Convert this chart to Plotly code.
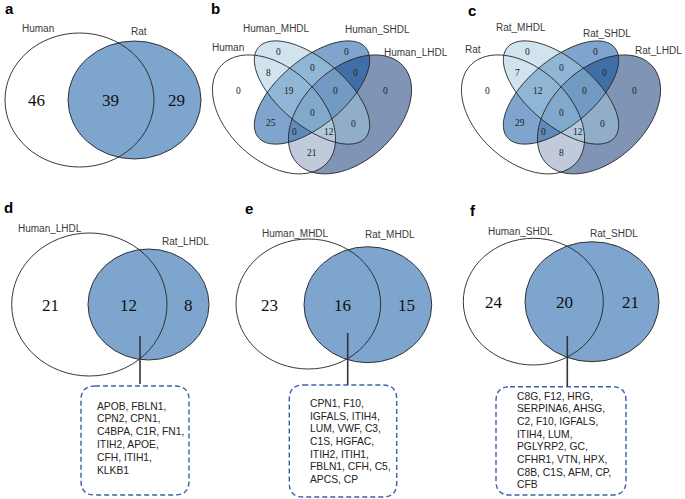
import math
import plotly.graph_objects as go

# ---------------- data ----------------
a_sets = ["Human", "Rat"]
a_counts = [46, 39, 29]

quad_regions = ["1", "2", "3", "4", "12", "23", "34", "123", "234", "13", "1234", "24", "134", "124", "14"]
b_sets = ["Human", "Human_MHDL", "Human_SHDL", "Human_LHDL"]
b_counts = [0, 0, 0, 0, 8, 0, 0, 19, 0, 25, 0, 0, 0, 12, 21]
c_sets = ["Rat", "Rat_MHDL", "Rat_SHDL", "Rat_LHDL"]
c_counts = [0, 0, 0, 0, 7, 0, 0, 12, 0, 29, 0, 0, 0, 12, 8]

d_sets = ["Human_LHDL", "Rat_LHDL"]
d_counts = [21, 12, 8]
d_genes = ["APOB, FBLN1,", "CPN2, CPN1,", "C4BPA, C1R, FN1,", "ITIH2, APOE,", "CFH, ITIH1,", "KLKB1"]

e_sets = ["Human_MHDL", "Rat_MHDL"]
e_counts = [23, 16, 15]
e_genes = ["CPN1, F10,", "IGFALS, ITIH4,", "LUM, VWF, C3,", "C1S, HGFAC,", "ITIH2, ITIH1,",
           "FBLN1, CFH, C5,", "APCS, CP"]

f_sets = ["Human_SHDL", "Rat_SHDL"]
f_counts = [24, 20, 21]
f_genes = ["C8G, F12, HRG,", "SERPINA6, AHSG,", "C2, F10, IGFALS,", "ITIH4, LUM,", "PGLYRP2, GC,",
           "CFHR1, VTN, HPX,", "C8B, C1S, AFM, CP,", "CFB"]

panel_letters = ["a", "b", "c", "d", "e", "f"]

# ---------------- styling ----------------
W, H = 685, 499
BLUE = "#7EA5CD"
LABEL_FONT = dict(family="Liberation Sans, Arial", size=10, color="#3a3a3a")
NUM_SERIF = "Liberation Serif, Times New Roman"
BOX_COLOR = "#3F5FA8"

shapes = []
annotations = []


def text(x, y, s, font, xanchor="center", yanchor="middle"):
    annotations.append(dict(x=x, y=y, xref="x", yref="y", text=s, showarrow=False,
                            font=font, xanchor=xanchor, yanchor=yanchor))


def ellipse_path(cx, cy, a, b, deg, n=120):
    t = math.radians(deg)
    pts = []
    for i in range(n):
        th = 2 * math.pi * i / n
        x = cx + a * math.cos(th) * math.cos(t) - b * math.sin(th) * math.sin(t)
        y = cy + a * math.cos(th) * math.sin(t) + b * math.sin(th) * math.cos(t)
        pts.append(f"{x:.2f},{y:.2f}")
    return "M " + " L ".join(pts) + " Z"


def rounded_rect(x0, y0, x1, y1, r):
    return (f"M {x0 + r},{y0} L {x1 - r},{y0} Q {x1},{y0} {x1},{y0 + r} "
            f"L {x1},{y1 - r} Q {x1},{y1} {x1 - r},{y1} L {x0 + r},{y1} "
            f"Q {x0},{y1} {x0},{y1 - r} L {x0},{y0 + r} Q {x0},{y0} {x0 + r},{y0} Z")


def pair_panel(sets, counts, left, right, lab_pos, num_pos, num_size, genes=None, conn=None, box=None):
    shapes.append(dict(type="circle", xref="x", yref="y", x0=right[0], x1=right[1], y0=right[2], y1=right[3],
                       fillcolor=BLUE, line=dict(color="#222", width=0.9), layer="above"))
    shapes.append(dict(type="circle", xref="x", yref="y", x0=left[0], x1=left[1], y0=left[2], y1=left[3],
                       fillcolor="rgba(0,0,0,0)", line=dict(color="#222", width=0.9), layer="above"))
    for (x, y), s in zip(lab_pos, sets):
        text(x, y, s, LABEL_FONT)
    for (x, y), v in zip(num_pos, counts):
        text(x, y, str(v), dict(family=NUM_SERIF, size=num_size, color="#111"))
    if genes is not None:
        cx, cy0, cy1 = conn
        shapes.append(dict(type="line", xref="x", yref="y", x0=cx, x1=cx, y0=cy0, y1=cy1,
                           line=dict(color="#333", width=1.6)))
        bx0, by0, bx1, by1, tx, ty, dy = box
        shapes.append(dict(type="path", xref="x", yref="y", path=rounded_rect(bx0, by0, bx1, by1, 14),
                           line=dict(color=BOX_COLOR, width=1.4, dash="5px,3px"),
                           fillcolor="rgba(0,0,0,0)"))
        for i, g in enumerate(genes):
            text(tx, ty + i * dy, g, dict(family="Liberation Sans, Arial", size=10.3, color="#222"),
                 xanchor="left")


quad_label_off = {
    "1": (-74, 91), "2": (-34, 52), "3": (34, 52), "4": (73, 91),
    "12": (-44, 73), "23": (0, 68), "34": (43, 73),
    "123": (-23, 91), "234": (23, 91),
    "13": (-41, 123), "1234": (0, 113), "24": (41, 124),
    "134": (-18, 132), "124": (17, 132), "14": (0, 153),
}


def quad_panel(cx, sets, counts, set_lab_pos, last_right=None):
    ell = {
        "H": (cx - 38, 114.4, 71.9, 46.4, 42.6),
        "M": (cx, 92.5, 70, 33, 40),
        "S": (cx, 92.5, 70, 33, -40),
        "L": (cx + 38, 114.4, 71.9, 46.4, -42.6),
    }
    fills = [("L", "rgb(128,148,181)"), ("H", "rgba(255,255,255,0.5)"),
             ("S", "rgba(0,73,155,0.5)"), ("M", "rgba(161,199,221,0.5)")]
    for k, col in fills:
        shapes.append(dict(type="path", xref="x", yref="y", path=ellipse_path(*ell[k]),
                           fillcolor=col, line=dict(width=0)))
    for k in ["H", "M", "S", "L"]:
        shapes.append(dict(type="path", xref="x", yref="y", path=ellipse_path(*ell[k]),
                           fillcolor="rgba(0,0,0,0)", line=dict(color="#222", width=0.9)))
    for reg, v in zip(quad_regions, counts):
        dx, y = quad_label_off[reg]
        text(cx + dx, y, str(v), dict(family=NUM_SERIF, size=9.5, color="#222"))
    for i, ((x, y), s) in enumerate(zip(set_lab_pos, sets)):
        if i == 3 and last_right is not None:
            text(last_right, y, s, LABEL_FONT, xanchor="right")
        else:
            text(x, y, s, LABEL_FONT)


# panel a
pair_panel(a_sets, a_counts, (5, 154, 33, 167), (68, 201, 41, 159),
           [(37.5, 28), (138.5, 31.5)], [(36.7, 100), (110, 100), (176.7, 100)], 17)

# panels b, c
quad_panel(312, b_sets, b_counts, [(228, 47), (276, 28), (377, 29.5), (416, 52)])
quad_panel(561, c_sets, c_counts, [(473, 49), (521, 27), (607, 33), (660, 50)], last_right=684)

# panels d, e, f
pair_panel(d_sets, d_counts, (11.7, 167, 233, 376), (88, 209, 249, 360),
           [(49.8, 228), (185.8, 241.7)], [(50, 305), (128, 305), (188, 305)], 17,
           genes=d_genes, conn=(140, 336, 384), box=(81, 386, 189, 495, 95, 406, 12.8))
pair_panel(e_sets, e_counts, (236, 380.7, 239, 369), (304, 431.7, 246.7, 362.7),
           [(295, 233.3), (390, 234.3)], [(269.3, 305), (342.3, 305), (406, 305)], 17,
           genes=e_genes, conn=(347.7, 333, 385), box=(289.3, 385, 396.7, 497, 307.7, 403.3, 12.7))
pair_panel(f_sets, f_counts, (463.3, 603.3, 238.3, 365), (525, 659, 241.7, 361.7),
           [(520, 231.7), (614.2, 233.3)], [(494.3, 302.7), (564, 302.7), (630.7, 302.7)], 17,
           genes=f_genes, conn=(567.3, 336, 386.7), box=(496, 386.7, 626, 495, 515, 396, 12.7))

letter_pos = [(9, 8), (215, 8), (472, 10), (8, 207), (249, 208), (473, 210)]
for (x, y), s in zip(letter_pos, panel_letters):
    text(x, y, f"<b>{s}</b>", dict(family="Liberation Sans, Arial", size=15, color="#000"))

fig = go.Figure()
fig.update_layout(
    width=W, height=H, margin=dict(l=0, r=0, t=0, b=0),
    paper_bgcolor="white", plot_bgcolor="white",
    xaxis=dict(range=[0, W], visible=False, fixedrange=True),
    yaxis=dict(range=[H, 0], visible=False, fixedrange=True),
    shapes=shapes, annotations=annotations, showlegend=False,
)
fig.write_html("out.html", config={"displayModeBar": False, "staticPlot": True},
               post_script="document.body.style.margin='0';document.body.style.overflow='hidden';")
